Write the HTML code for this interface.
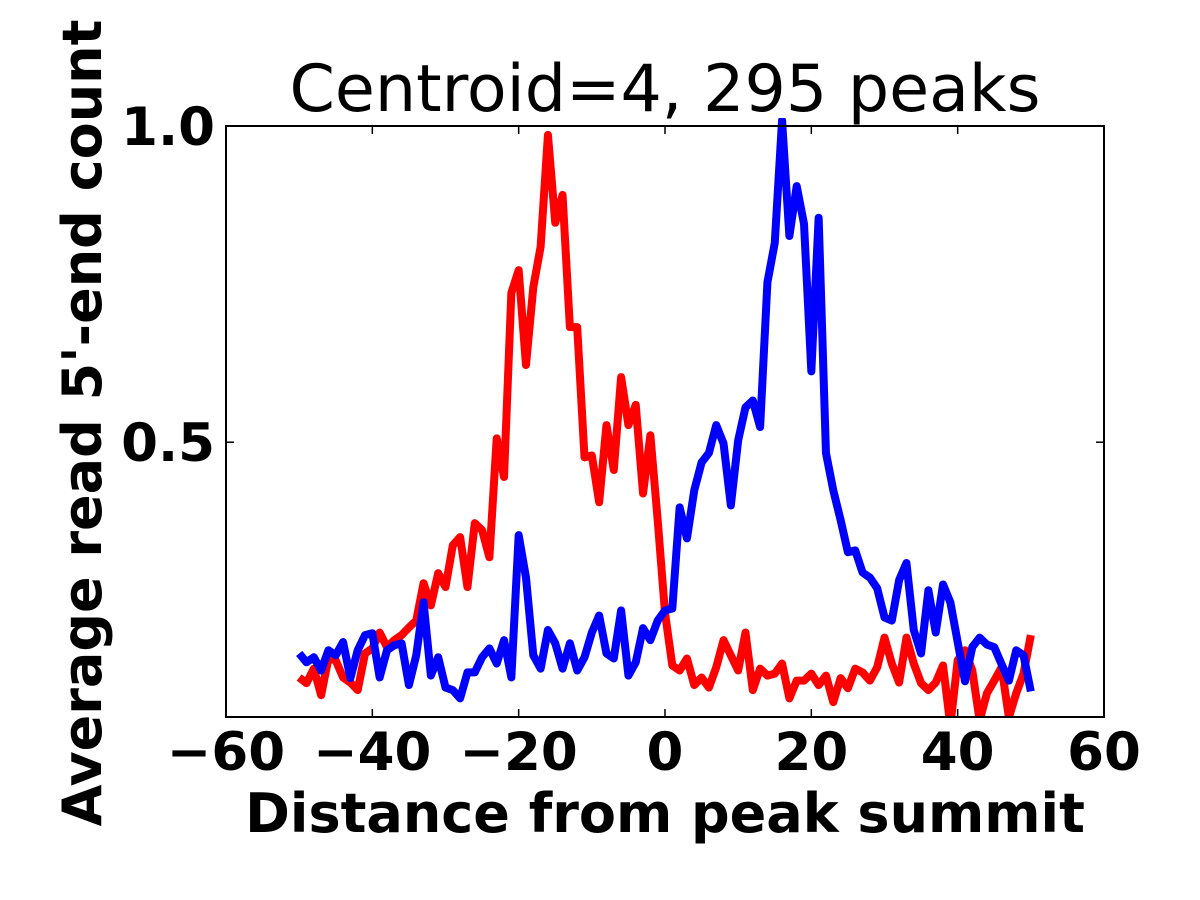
<!DOCTYPE html>
<html><head><meta charset="utf-8"><style>
body{margin:0;background:#fff}
svg{display:block}
text{font-family:"DejaVu Sans","Liberation Sans",sans-serif}
</style></head><body>
<svg id="chart" width="1200" height="900" xmlns="http://www.w3.org/2000/svg">
<defs><clipPath id="clip"><rect x="226" y="118" width="878" height="599"/></clipPath></defs>
<rect x="0" y="0" width="1200" height="900" fill="#fff"/>
<g id="series" clip-path="url(#clip)"></g>
<rect x="226" y="126" width="878" height="591" fill="none" stroke="#000" stroke-width="2"/>
<g id="ticks"></g>
<text x="665" y="111" font-size="65" text-anchor="middle">Centroid=4, 295 peaks</text>
<text x="665" y="832" font-size="54" font-weight="bold" text-anchor="middle">Distance from peak summit</text>
<text transform="translate(101,423) rotate(-90)" font-size="54" font-weight="bold" text-anchor="middle">Average read 5'-end count</text>
</svg>
<script>
const xTicks=[-60,-40,-20,0,20,40,60];
const xTickLabels=["\u221260","\u221240","\u221220","0","20","40","60"];
const yTicks=[0.5,1.0];
const yTickLabels=["0.5","1.0"];
const redValues=[.128,.119,.142,.100,.158,.155,.128,.120,.108,.166,.174,.199,.176,.187,.195,.207,.218,.277,.242,.293,.271,.337,.350,.271,.372,.361,.318,.506,.445,.736,.772,.622,.745,.809,.986,.847,.891,.682,.682,.476,.479,.405,.527,.456,.603,.527,.559,.419,.511,.377,.230,.147,.139,.158,.116,.128,.112,.144,.187,.163,.139,.199,.108,.142,.131,.134,.150,.095,.123,.123,.134,.116,.131,.089,.127,.111,.142,.136,.123,.144,.191,.150,.120,.191,.150,.119,.108,.120,.147,.052,.155,.171,.139,.060,.103,.123,.144,.065,.103,.134,.195];
const blueValues=[.166,.152,.160,.139,.171,.163,.184,.127,.171,.195,.198,.128,.171,.179,.182,.116,.163,.247,.131,.160,.112,.108,.095,.136,.136,.160,.174,.150,.187,.128,.353,.286,.163,.142,.203,.182,.142,.182,.139,.160,.199,.226,.166,.158,.234,.131,.152,.206,.187,.218,.234,.237,.397,.348,.424,.468,.483,.527,.498,.400,.503,.555,.566,.524,.753,.815,1.009,.826,.905,.845,.612,.855,.483,.424,.377,.326,.329,.294,.286,.269,.223,.218,.282,.309,.203,.166,.266,.199,.275,.247,.184,.122,.176,.191,.180,.176,.149,.123,.171,.163,.106];
const xStart=-50;
const X0=226,X1=1104,Y0=717,Y1=126,xmin=-60,xmax=60,ymin=0.0655,ymax=1.0;
const xs=v=>X0+(v-xmin)/(xmax-xmin)*(X1-X0);
const ys=v=>Y0-(v-ymin)/(ymax-ymin)*(Y0-Y1);
const NS="http://www.w3.org/2000/svg";
const series=document.getElementById('series');
function line(vals,color,name){
  const p=document.createElementNS(NS,'polyline');
  p.setAttribute('points',vals.map((v,i)=>xs(xStart+i)+','+ys(v)).join(' '));
  p.setAttribute('fill','none');p.setAttribute('stroke',color);
  p.setAttribute('stroke-width','8');p.setAttribute('stroke-linejoin','round');
  
  
  series.appendChild(p);
}
line(redValues,'#ff0000','red-series-line');
line(blueValues,'#0000ff','blue-series-line');
const tg=document.getElementById('ticks');
function mk(tag,attrs){const e=document.createElementNS(NS,tag);for(const k in attrs)e.setAttribute(k,attrs[k]);tg.appendChild(e);return e;}
xTicks.forEach((t,i)=>{
  const x=xs(t);
  const a=mk('line',{x1:x,x2:x,y1:Y0,y2:Y0-8,stroke:'#000','stroke-width':1.5});
  
  
  const b=mk('line',{x1:x,x2:x,y1:Y1,y2:Y1+8,stroke:'#000','stroke-width':1.5});
  
  
  const l=mk('text',{x:x,y:770,'font-size':53,'font-weight':'bold','text-anchor':'middle'});
  l.textContent=xTickLabels[i];
  
  
});
yTicks.forEach((t,i)=>{
  const y=ys(t);
  const a=mk('line',{x1:X0,x2:X0+8,y1:y,y2:y,stroke:'#000','stroke-width':1.5});
  
  
  const b=mk('line',{x1:X1,x2:X1-8,y1:y,y2:y,stroke:'#000','stroke-width':1.5});
  
  
  const l=mk('text',{x:215,y:y+19,'font-size':53,'font-weight':'bold','text-anchor':'end'});
  l.textContent=yTickLabels[i];
  
  
});
</script>
</body></html>
